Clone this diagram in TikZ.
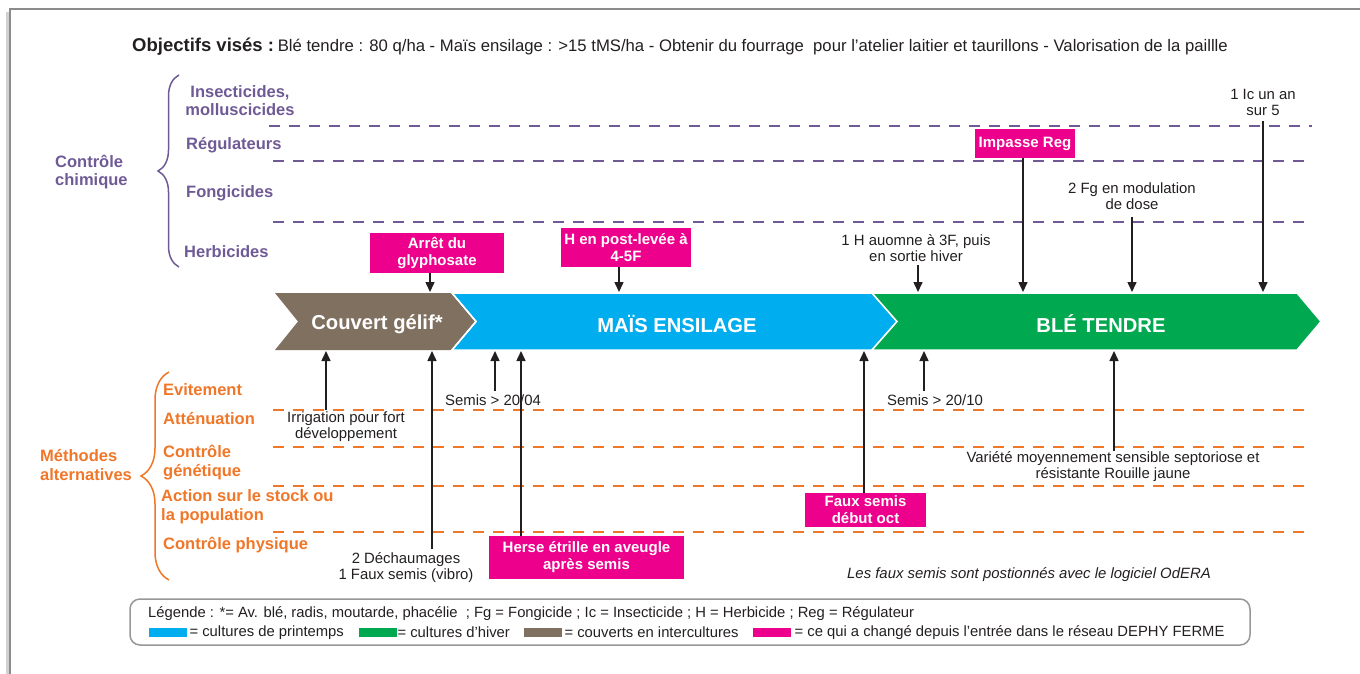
\documentclass[tikz,border=0pt]{standalone}
\usepackage{fontspec}
\setmainfont{Liberation Sans}
\usetikzlibrary{arrows.meta,decorations.pathreplacing}
\definecolor{purp}{RGB}{111,90,150}
\definecolor{orng}{RGB}{240,118,40}
\definecolor{mag}{RGB}{236,0,140}
\definecolor{cblue}{RGB}{0,174,239}
\definecolor{cgreen}{RGB}{0,168,80}
\definecolor{cbrown}{RGB}{128,112,96}
\definecolor{txt}{RGB}{35,31,32}
\definecolor{frame}{RGB}{140,140,140}
\tikzset{
  plab/.style={font=\bfseries\fontsize{16.5}{18}\selectfont, text=purp, inner sep=0pt},
  olab/.style={font=\bfseries\fontsize{16.5}{19}\selectfont, text=orng, inner sep=0pt},
  ptxt/.style={font=\fontsize{14.9}{16}\selectfont, text=txt, inner sep=0pt, align=center},
  magbox/.style={fill=mag, text=white, font=\bfseries\fontsize{15}{17}\selectfont, inner sep=0pt, align=center},
  chev/.style={draw=white, line width=1.5pt},
  chevlab/.style={text=white, font=\bfseries\fontsize{20.2}{22}\selectfont, inner sep=0pt},
  pdash/.style={draw=purp, line width=2.5pt, dash pattern=on 11pt off 9pt},
  odash/.style={draw=orng, line width=2.5pt, dash pattern=on 11pt off 9pt},
  arr/.style={draw=txt, line width=1.5pt, -{Triangle[length=10pt,width=9pt]}},
  legtxt/.style={font=\fontsize{14.8}{16}\selectfont, text=txt, inner sep=0pt, anchor=west},
  legbox/.style={minimum width=38pt, minimum height=9pt, inner sep=0pt, anchor=west},
}
\begin{document}
\begin{tikzpicture}[x=1pt,y=-1pt]
\useasboundingbox (0,0) rectangle (1360,673);
% frame
\draw[frame!40, line width=3pt] (7,700) -- (7,12);
\draw[frame, line width=2pt] (10,700) -- (10,9) -- (1380,9);

% title
\node[anchor=west, inner sep=0pt, text=txt] (title) at (132,47)
  {{\bfseries\fontsize{18.5}{20}\selectfont Objectifs visés :} {\fontsize{16.7}{18}\selectfont Blé tendre : 80 q/ha - Maïs ensilage : >15 tMS/ha - Obtenir du fourrage\ \ pour l'atelier laitier et taurillons - Valorisation de la paillle}};

% chemical control
\draw[purp, line width=1.5pt, decorate, decoration={brace, amplitude=21pt}] (179,267) -- (179,75);
\node[plab, align=left, anchor=west] (chim) at (55,172) {Contrôle\\chimique};
\node[plab, align=center] (insect) at (240,101) {Insecticides,\\molluscicides};
\node[plab, anchor=west] (reg) at (186,145) {Régulateurs};
\node[plab, anchor=west] (fong) at (186,193) {Fongicides};
\node[plab, anchor=west] (herb) at (184,252) {Herbicides};
\draw[pdash] (269,126) -- (1312,126);
\draw[pdash] (273,161) -- (1312,161);
\draw[pdash] (273,222) -- (1312,222);

% alternative methods
\draw[orng, line width=1.5pt, decorate, decoration={brace, amplitude=28pt}] (169,580) -- (169,372);
\node[olab, align=left, anchor=west] (meth) at (40,465) {Méthodes\\alternatives};
\node[olab, anchor=west] (evit) at (163,390) {Evitement};
\node[olab, anchor=west] (att) at (163,419) {Atténuation};
\node[olab, align=left, anchor=west] (cgen) at (163,462.5) {Contrôle\\génétique};
\node[olab, align=left, anchor=west] (act) at (161,507) {Action sur le stock ou\\la population};
\node[olab, anchor=west] (cphys) at (163,545) {Contrôle physique};
\draw[odash] (273,410) -- (1312,410);
\draw[odash] (273,447) -- (1312,447);
\draw[odash] (273,486) -- (1312,486);
\draw[odash] (273,532) -- (1312,532);

% chevrons
\fill[cbrown] (275,293) -- (452,293) -- (476,321.5) -- (452,350) -- (275,350) -- (298,321.5) -- cycle;
\draw[chev, fill=cblue] (452,293) -- (872,293) -- (897,321.5) -- (872,350) -- (452,350) -- (476,321.5) -- cycle;
\draw[chev, fill=cgreen] (872,293) -- (1297,293) -- (1321,321.5) -- (1297,350) -- (872,350) -- (897,321.5) -- cycle;
\draw[white, line width=1.5pt] (452,293) -- (476,321.5) -- (452,350);
\node[chevlab] (couv) at (377,324) {Couvert gélif*};
\node[chevlab] (mais) at (677,324) {MAÏS ENSILAGE};
\node[chevlab] (ble) at (1101,324) {BLÉ TENDRE};

% targets on chevrons
\coordinate (tArret) at (430,292);
\coordinate (tHpost) at (619,292);
\coordinate (tHau) at (918,292);
\coordinate (tImp) at (1023,292);
\coordinate (tFg) at (1132,292);
\coordinate (tIc) at (1263,292);
\coordinate (bIrr) at (326,351);
\coordinate (bDech) at (432,351);
\coordinate (bS1) at (495,351);
\coordinate (bHerse) at (521,351);
\coordinate (bFaux) at (864,351);
\coordinate (bS2) at (924,351);
\coordinate (bVar) at (1114,351);

% upper annotations
\node[magbox, minimum width=134pt, minimum height=40pt] (arret) at (437,253) {Arrêt du\\glyphosate};
\node[magbox, minimum width=130pt, minimum height=39pt] (hpost) at (626,247.5) {H en post-levée à\\4-5F};
\node[magbox, minimum width=100pt, minimum height=29pt] (impasse) at (1025,143.5) {Impasse Reg};
\node[ptxt] (ic) at (1263,102) {1 Ic un an\\sur 5};
\node[ptxt] (fg) at (1132,196) {2 Fg en modulation\\de dose};
\node[ptxt] (hau) at (916,248) {1 H auomne à 3F, puis\\en sortie hiver};

\draw[arr] (arret.south -| tArret) -- (tArret);
\draw[arr] (hpost.south -| tHpost) -- (tHpost);
\draw[arr] (impasse.south -| tImp) -- (tImp);
\draw[arr] ([yshift=-6pt]ic.south -| tIc) -- (tIc);
\draw[arr] ([yshift=-7pt]fg.south -| tFg) -- (tFg);
\draw[arr] ([yshift=-3pt]hau.south -| tHau) -- (tHau);

% lower annotations
\node[ptxt] (irr) at (346,427) {Irrigation pour fort\\développement};
\node[ptxt] (dech) at (406,567.5) {2 Déchaumages\\1 Faux semis (vibro)};
\node[ptxt, anchor=west] (s1) at (445,400) {Semis > 20/04};
\node[ptxt, anchor=west] (s2) at (887,400) {Semis > 20/10};
\node[ptxt] (var) at (1113,467) {Variété moyennement sensible septoriose et\\résistante Rouille jaune};
\node[magbox, minimum width=121pt, minimum height=34pt] (faux) at (865.5,510) {Faux semis\\début oct};
\node[magbox, minimum width=195pt, minimum height=43pt] (herse) at (586.5,557.5) {Herse étrille en aveugle\\après semis};
\node[ptxt, anchor=west, font=\itshape\fontsize{14.9}{16}\selectfont] (note) at (847,575) {Les faux semis sont postionnés avec le logiciel OdERA};

\draw[arr] ([yshift=2pt]irr.north -| bIrr) -- (bIrr);
\draw[arr] ([yshift=3pt]dech.north -| bDech) -- (bDech);
\draw[arr] ([yshift=3pt]s1.north -| bS1) -- (bS1);
\draw[arr] (herse.north -| bHerse) -- (bHerse);
\draw[arr] (faux.north -| bFaux) -- (bFaux);
\draw[arr] ([yshift=3pt]s2.north -| bS2) -- (bS2);
\draw[arr] ([yshift=1pt]var.north -| bVar) -- (bVar);

% legend
\draw[frame!90, line width=1.5pt, rounded corners=10pt] (130,599) rectangle (1250,645);
\node[legtxt] (leg1) at (148,614) {Légende : *= Av. blé, radis, moutarde, phacélie\ \ ; Fg = Fongicide ; Ic = Insecticide ; H = Herbicide ; Reg = Régulateur};
\node[legbox, fill=cblue] (lb1) at (149,632.5) {};
\node[legtxt] (lt1) at ([xshift=2pt]lb1.east) {= cultures de printemps};
\node[legbox, fill=cgreen] (lb2) at (359,632.5) {};
\node[legtxt] (lt2) at (lb2.east) {= cultures d’hiver};
\node[legbox, fill=cbrown] (lb3) at (524,632.5) {};
\node[legtxt] (lt3) at ([xshift=2pt]lb3.east) {= couverts en intercultures};
\node[legbox, fill=mag] (lb4) at (753,632.5) {};
\node[legtxt] (lt4) at ([xshift=3pt]lb4.east) {= ce qui a changé depuis l’entrée dans le réseau DEPHY FERME};
\end{tikzpicture}
\end{document}
